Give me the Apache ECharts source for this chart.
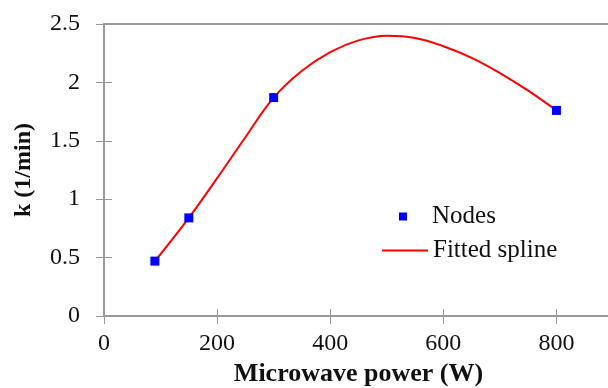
<!DOCTYPE html>
<html>
<head>
<meta charset="utf-8">
<script src="https://cdn.jsdelivr.net/npm/echarts@6/dist/echarts.min.js"></script>
<style>
  html, body { margin: 0; padding: 0; background: #fff; }
  #chart { width: 608px; height: 388px; }
</style>
</head>
<body>
<div id="chart"></div>
<script>
  // measured nodes (power W, k 1/min)
  var nodePower = [90, 150, 300, 800];
  var nodeK = [0.47, 0.84, 1.87, 1.76];
  // points read along the fitted spline
  var splinePower = [90, 150, 200, 250, 300, 350, 400, 450, 500, 550, 600, 650, 700, 750, 800];
  var splineK = [0.47, 0.84, 1.18, 1.53, 1.87, 2.10, 2.26, 2.36, 2.40, 2.38, 2.31, 2.21, 2.08, 1.93, 1.76];
  var xTicks = { min: 0, max: 900, step: 200 };
  var yTicks = { min: 0, max: 2.5, step: 0.5 };

  var axisGray = '#9a9a9a';
  var serif = 'Liberation Serif';

  var nodeData = nodePower.map(function (p, i) { return [p, nodeK[i]]; });
  var splineData = splinePower.map(function (p, i) { return [p, splineK[i]]; });

  function plainAxis(pos, range) {
    // helper axis: only used for the top frame line or the inner half of the ticks
    return {
      type: 'value', position: pos,
      min: range.min, max: range.max, interval: range.step,
      axisLine: { show: false },
      axisTick: { show: false },
      axisLabel: { show: false },
      splitLine: { show: false }
    };
  }

  var xInner = plainAxis('bottom', xTicks);
  xInner.axisTick = { show: true, inside: true, length: 7, lineStyle: { color: axisGray, width: 1 } };
  var xTop = plainAxis('top', xTicks);
  xTop.axisLine = { show: true, lineStyle: { color: axisGray, width: 2 } };
  var yInner = plainAxis('left', yTicks);
  yInner.axisTick = { show: true, inside: true, length: 8, lineStyle: { color: axisGray, width: 1 } };

  var chart = echarts.init(document.getElementById('chart'));
  chart.setOption({
    animation: false,
    backgroundColor: '#fff',
    grid: { left: 104, top: 24, right: -5, bottom: 72, outerBoundsMode: 'none', containLabel: false },
    legend: [
      {
        data: ['Nodes'],
        orient: 'vertical',
        left: 394, top: 199,
        itemWidth: 8, itemHeight: 8,
        textStyle: { fontFamily: serif, fontSize: 25, color: '#111', padding: [0, 0, 0, 20] }
      },
      {
        data: [{ name: 'Fitted spline', icon: 'rect' }],
        orient: 'vertical',
        left: 377, top: 233,
        itemWidth: 46, itemHeight: 2,
        textStyle: { fontFamily: serif, fontSize: 25, color: '#111' }
      }
    ],
    xAxis: [
      {
        type: 'value', position: 'bottom',
        min: xTicks.min, max: xTicks.max, interval: xTicks.step,
        name: 'Microwave power (W)', nameLocation: 'middle', nameGap: 40,
        nameTextStyle: { fontFamily: serif, fontSize: 26, fontWeight: 'bold', color: '#111' },
        axisLine: { lineStyle: { color: axisGray, width: 2 } },
        axisTick: { show: true, length: 8, lineStyle: { color: axisGray, width: 1 } },
        axisLabel: { fontFamily: serif, fontSize: 24, color: '#111', margin: 16, showMaxLabel: false },
        splitLine: { show: false }
      },
      xInner,
      xTop
    ],
    yAxis: [
      {
        type: 'value', position: 'left',
        min: yTicks.min, max: yTicks.max, interval: yTicks.step,
        name: 'k (1/min)', nameLocation: 'middle', nameGap: 68,
        nameTextStyle: { fontFamily: serif, fontSize: 24, fontWeight: 'bold', color: '#111' },
        axisLine: { lineStyle: { color: axisGray, width: 2 } },
        axisTick: { show: true, length: 8, lineStyle: { color: axisGray, width: 1 } },
        axisLabel: { fontFamily: serif, fontSize: 24, color: '#111', margin: 24 },
        splitLine: { show: false }
      },
      yInner
    ],
    series: [
      {
        name: 'Fitted spline',
        type: 'line',
        xAxisIndex: 0, yAxisIndex: 0,
        data: splineData,
        smooth: 0.4,
        showSymbol: false,
        symbol: 'none',
        lineStyle: { color: '#ff0000', width: 2 },
        itemStyle: { color: '#ff0000' },
        z: 2
      },
      {
        name: 'Nodes',
        type: 'scatter',
        xAxisIndex: 0, yAxisIndex: 0,
        data: nodeData,
        symbol: 'rect',
        symbolSize: 9,
        itemStyle: { color: '#0000ff', opacity: 1 },
        z: 3
      }
    ]
  });
</script>
</body>
</html>
